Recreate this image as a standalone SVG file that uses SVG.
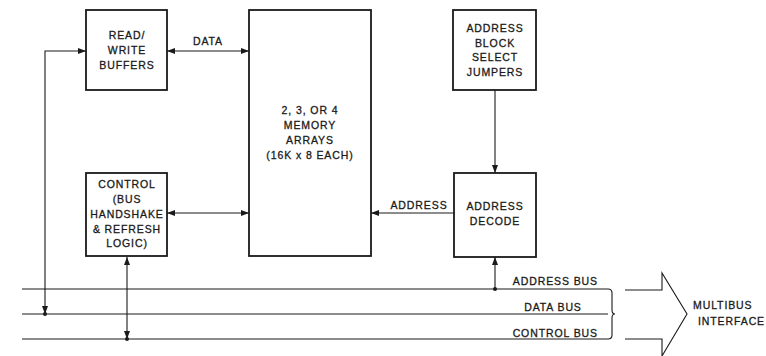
<svg xmlns="http://www.w3.org/2000/svg" width="766" height="356" viewBox="0 0 766 356">
<defs>
<marker id="ah" viewBox="0 0 8 6" refX="8" refY="3" markerWidth="8" markerHeight="6" markerUnits="userSpaceOnUse" orient="auto-start-reverse">
<path d="M0,0 L8,3 L0,6 Z" fill="#1a1a1a"/>
</marker>
<style>
.box{fill:#fff;stroke:#1a1a1a;stroke-width:1.8}
.ln{fill:none;stroke:#1a1a1a;stroke-width:1.1}
.t{font-family:"Liberation Sans",Arial,sans-serif;font-size:10.5px;fill:#1a1a1a;stroke:#1a1a1a;stroke-width:0.3px;text-anchor:middle;letter-spacing:0.9px}
.e{text-anchor:end}
.s{text-anchor:start}
.dot{fill:#1a1a1a}
</style>
</defs>
<rect width="766" height="356" fill="#fff"/>

<g id="connectors">
<line class="ln" x1="22" y1="289" x2="608" y2="289"/>
<line class="ln" x1="22" y1="314" x2="608" y2="314"/>
<line class="ln" x1="22" y1="339" x2="608" y2="339"/>
<polyline class="ln" points="45,314 45,51 86,51" marker-start="url(#ah)" marker-end="url(#ah)"/>
<circle class="dot" cx="45" cy="314" r="2"/>
<line class="ln" x1="167" y1="51" x2="249" y2="51" marker-start="url(#ah)" marker-end="url(#ah)"/>
<line class="ln" x1="167" y1="213" x2="249" y2="213" marker-start="url(#ah)" marker-end="url(#ah)"/>
<line class="ln" x1="127" y1="257" x2="127" y2="339" marker-start="url(#ah)" marker-end="url(#ah)"/>
<circle class="dot" cx="127" cy="339" r="2"/>
<line class="ln" x1="495" y1="90" x2="495" y2="173" marker-end="url(#ah)"/>
<line class="ln" x1="454" y1="213" x2="371" y2="213" marker-end="url(#ah)"/>
<line class="ln" x1="495" y1="289" x2="495" y2="257" marker-end="url(#ah)"/>
<circle class="dot" cx="495" cy="289" r="2"/>
<path class="ln" d="M608,289 Q612,289 612,293 L612,310 Q612,314 615,314 Q612,314 612,318 L612,335 Q612,339 608,339"/>
<path class="ln" stroke-width="1.3" d="M625,290 L662,290 L662,273 L687,314 L662,356 L662,339 L625,339"/>
</g>

<g id="labels">
<text class="t" x="208" y="45">DATA</text>
<text class="t" x="419" y="209">ADDRESS</text>
<text class="t e" x="598" y="285">ADDRESS BUS</text>
<text class="t" x="553" y="311">DATA BUS</text>
<text class="t e" x="598" y="337">CONTROL BUS</text>
<text class="t s" x="693" y="309">MULTIBUS</text>
<text class="t s" x="698" y="325">INTERFACE</text>
</g>

<g id="rw-buffers">
<rect class="box" x="86" y="10" width="81" height="80"/>
<text class="t" x="127" y="38.5">READ/</text>
<text class="t" x="127" y="53.5">WRITE</text>
<text class="t" x="127" y="68.5">BUFFERS</text>
</g>

<g id="memory-arrays">
<rect class="box" x="249" y="10" width="122" height="246"/>
<text class="t" x="310" y="114">2, 3, OR 4</text>
<text class="t" x="310" y="129">MEMORY</text>
<text class="t" x="310" y="144">ARRAYS</text>
<text class="t" x="310" y="159">(16K x 8 EACH)</text>
</g>

<g id="address-jumpers">
<rect class="box" x="453" y="10" width="83" height="80"/>
<text class="t" x="495" y="32">ADDRESS</text>
<text class="t" x="495" y="47">BLOCK</text>
<text class="t" x="495" y="61">SELECT</text>
<text class="t" x="495" y="76">JUMPERS</text>
</g>

<g id="control">
<rect class="box" x="86" y="173" width="81" height="83"/>
<text class="t" x="127" y="188">CONTROL</text>
<text class="t" x="127" y="203">(BUS</text>
<text class="t" x="127" y="218">HANDSHAKE</text>
<text class="t" x="127" y="233">&amp; REFRESH</text>
<text class="t" x="127" y="247">LOGIC)</text>
</g>

<g id="address-decode">
<rect class="box" x="454" y="173" width="82" height="84"/>
<text class="t" x="495" y="210">ADDRESS</text>
<text class="t" x="495" y="225">DECODE</text>
</g>
</svg>
